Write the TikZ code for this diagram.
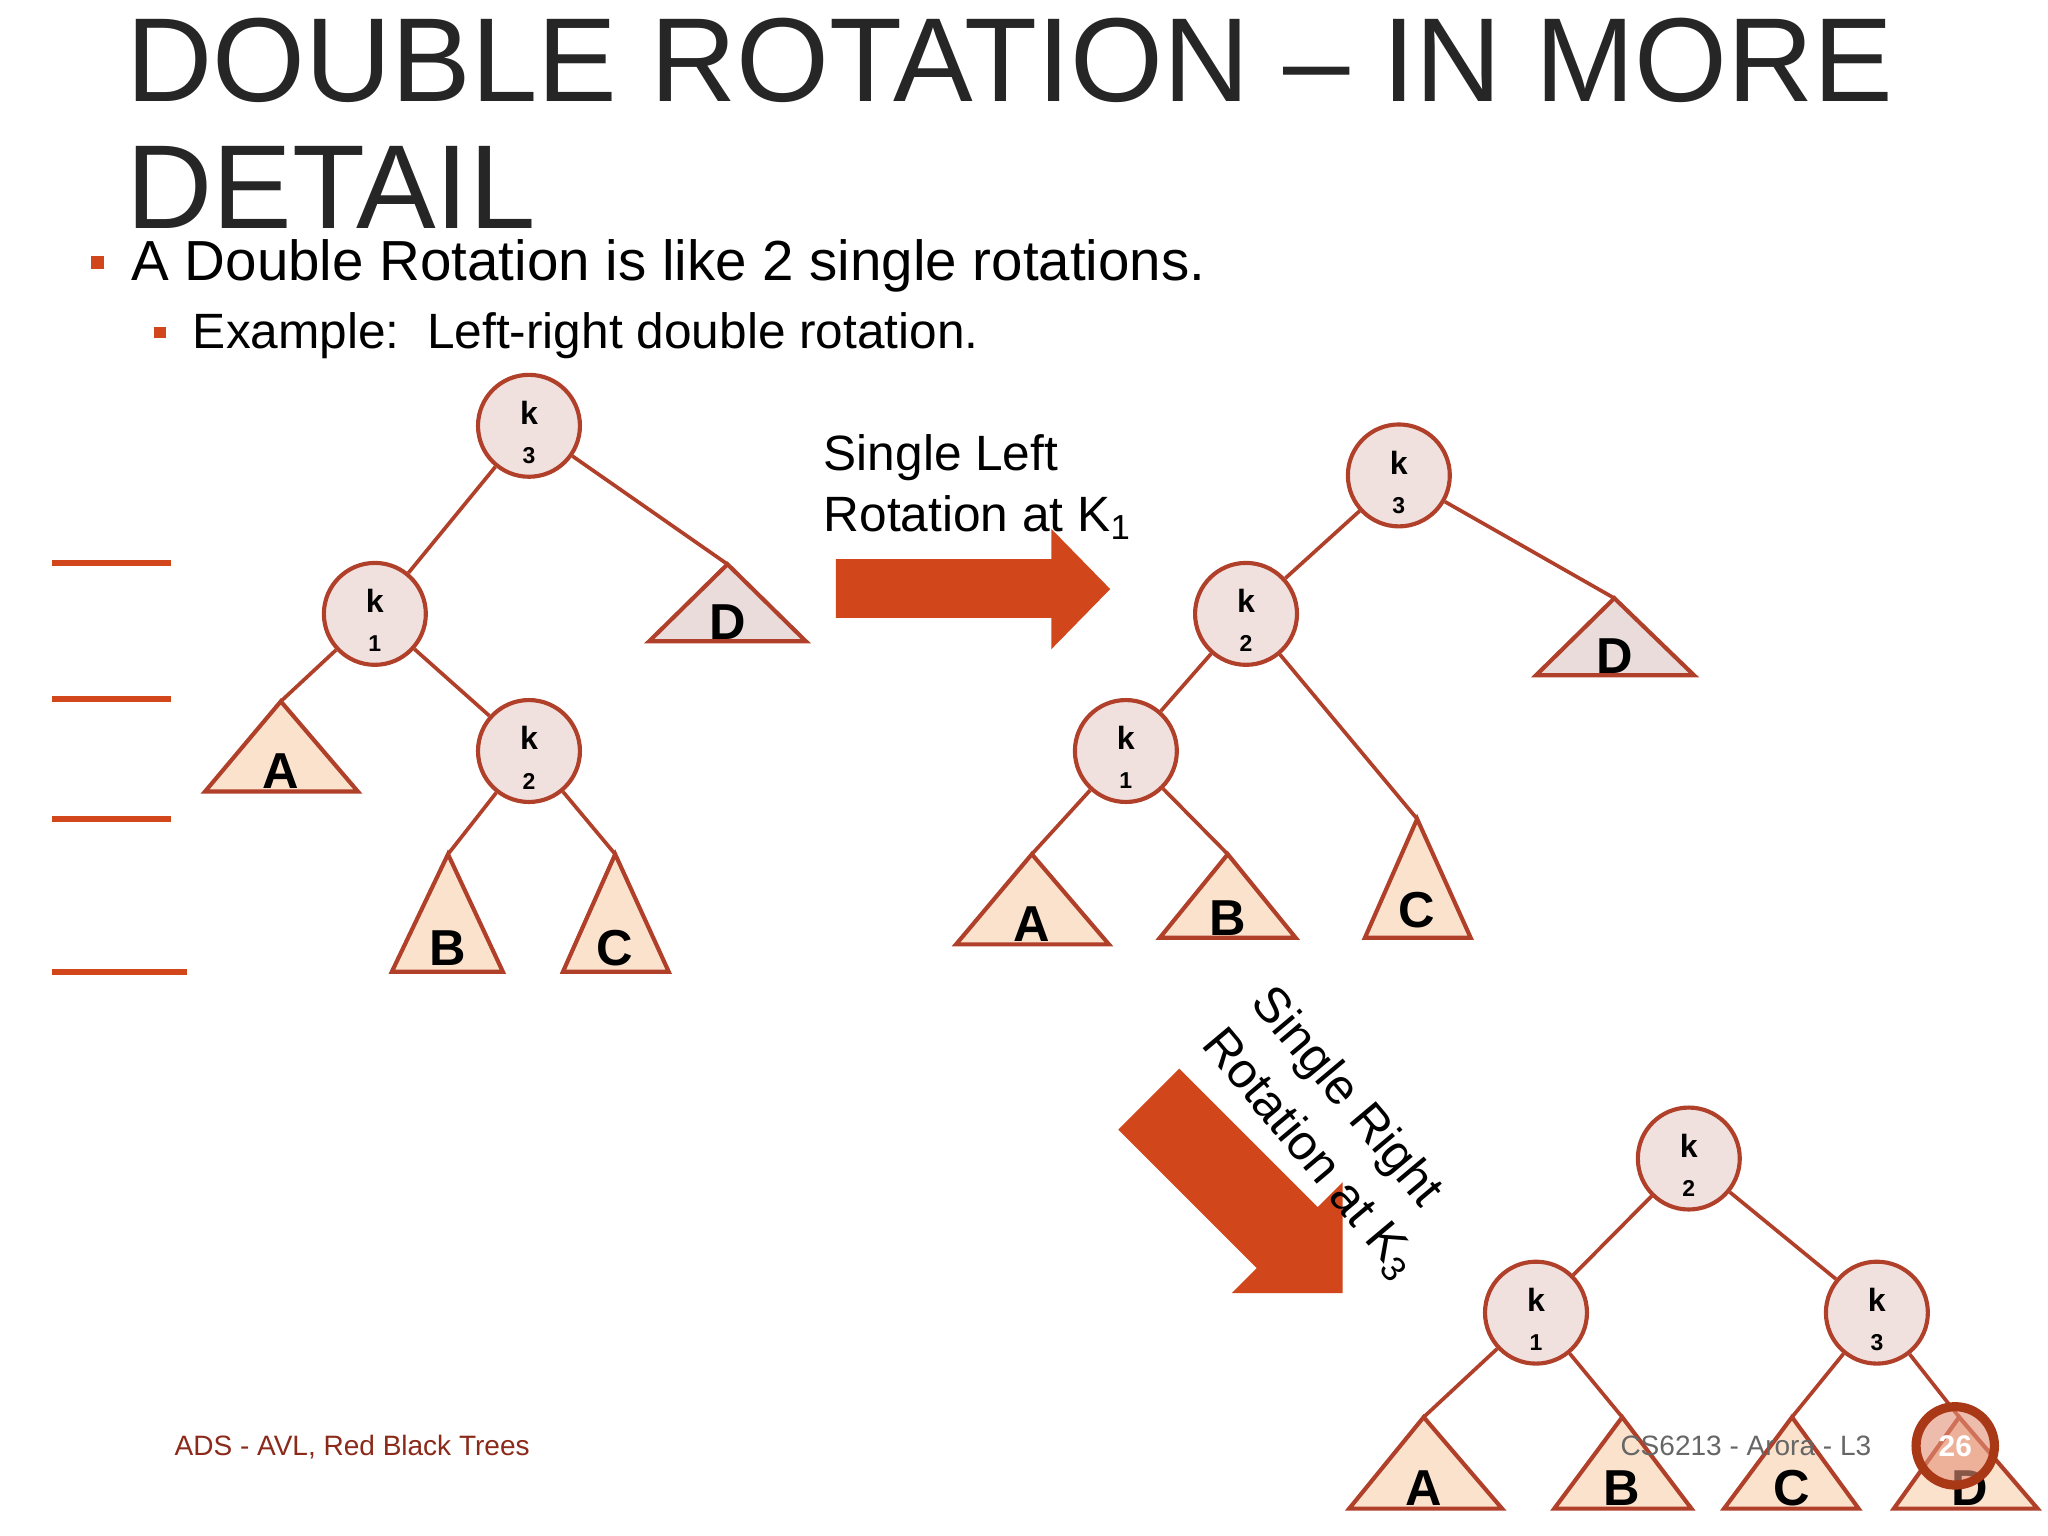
\documentclass[tikz,border=0pt]{standalone}
\usepackage{fontspec}
\setmainfont{Liberation Sans}
\definecolor{edge}{HTML}{B0402A}
\definecolor{nfill}{HTML}{F1E1DE}
\definecolor{tfill}{HTML}{FBE2CC}
\definecolor{dfill}{HTML}{EADCDB}
\definecolor{arr}{HTML}{D2461C}
\definecolor{foot}{HTML}{8B2A1A}
\begin{document}
\begin{tikzpicture}[x=0.01cm,y=-0.01cm,
  kn/.style={circle,draw=edge,fill=nfill,line width=0.9pt,minimum size=0.78cm,inner sep=0pt},
  ed/.style={draw=edge,line width=0.8pt},
  tri/.style={draw=edge,fill=tfill,line width=0.9pt},
  tl/.style={font=\bfseries\fontsize{11pt}{11pt}\selectfont,anchor=base}]
\useasboundingbox (0,0) rectangle (1568,1176);
\fill[white] (0,0) rectangle (1568,1176);
\newcommand{\knode}[4]{\node[kn] (#1) at (#2,#3) {};
  \node[font=\bfseries\fontsize{7pt}{7pt}\selectfont] at (#2,#3-10) {k};
  \node[font=\bfseries\fontsize{5pt}{5pt}\selectfont] at (#2,#3+23) {#4};}
\newcommand{\tri}[6]{% name apexx apexy left right basey
  \coordinate (#1) at (#2,#3);
  \filldraw[tri] (#2,#3) -- (#5,#6) -- (#4,#6) -- cycle;}
% title
\node[anchor=base west,inner sep=0pt,font=\fontsize{26pt}{26pt}\selectfont,text=black!85] at (96,78) {DOUBLE ROTATION -- IN MORE};
\node[anchor=base west,inner sep=0pt,font=\fontsize{26pt}{26pt}\selectfont,text=black!85] at (96,175) {DETAIL};
\fill[arr] (70,196) rectangle (80,206);
\node[anchor=base west,inner sep=0pt,font=\fontsize{12.3pt}{13pt}\selectfont] at (100,215) {A Double Rotation is like 2 single rotations.};
\fill[arr] (118,250) rectangle (127,259);
\node[anchor=base west,inner sep=0pt,font=\fontsize{10.8pt}{12pt}\selectfont] at (147,267) {Example:\ \ Left-right double rotation.};
% left lines
\foreach \y/\x in {431/131,535/131,627/131,744/143} \draw[arr,line width=1.2pt] (40,\y) -- (\x,\y);
% tree 1
\knode{a3}{405}{326}{3}\knode{a1}{287}{470}{1}\knode{a2}{405}{575}{2}
\draw[ed] (a3) -- (557,432) (a3) -- (a1) (a1) -- (215,537) (a1) -- (a2) (a2) -- (343,654) (a2) -- (471,654);
\filldraw[tri,fill=dfill] (557,432) -- (617,491) -- (497,491) -- cycle; \node[tl] at (557,490) {D};
\tri{aA}{215}{537}{157}{274}{606} \node[tl] at (215,604) {A};
\tri{aB}{343}{654}{300}{385}{744} \node[tl] at (343,739) {B};
\tri{aC}{471}{654}{431}{512}{744} \node[tl] at (471,739) {C};
% arrow 1
\fill[arr] (640,428) -- (805,428) -- (805,405) -- (850,451) -- (805,497) -- (805,473) -- (640,473) -- cycle;
\node[anchor=base west,inner sep=0pt,font=\fontsize{10.8pt}{12pt}\selectfont] at (630,360) {Single Left};
\node[anchor=base west,inner sep=0pt,font=\fontsize{10.8pt}{12pt}\selectfont] at (630,407) {Rotation at K\textsubscript{1}};
% tree 2
\knode{b3}{1071}{364}{3}\knode{b2}{954}{470}{2}\knode{b1}{862}{575}{1}
\draw[ed] (b3) -- (1236,458) (b3) -- (b2) (b2) -- (b1) (b2) -- (1085,627) (b1) -- (790,654) (b1) -- (940,654);
\filldraw[tri,fill=dfill] (1236,458) -- (1297,517) -- (1176,517) -- cycle; \node[tl] at (1236,516) {D};
\tri{bA}{790}{654}{732}{849}{723} \node[tl] at (790,721) {A};
\tri{bB}{940}{654}{888}{992}{718} \node[tl] at (940,716) {B};
\tri{bC}{1085}{627}{1045}{1126}{718} \node[tl] at (1085,710) {C};
% arrow 2
\begin{scope}[shift={(1028,990)},rotate=135]
\fill[arr] (0,0) -- (60,-60) -- (60,-33) -- (210,-33) -- (210,33) -- (60,33) -- (60,60) -- cycle;
\end{scope}
\node[rotate=-50,align=left,font=\fontsize{10.8pt}{14pt}\selectfont] at (1022,868) {Single Right\\Rotation at K\textsubscript{3}};
% tree 3
\knode{c2}{1293}{887}{2}\knode{c1}{1176}{1005}{1}\knode{c3}{1437}{1005}{3}
\draw[ed] (c2) -- (c1) (c2) -- (c3) (c1) -- (1090,1085) (c1) -- (1242,1085) (c3) -- (1372,1085) (c3) -- (1500,1085);
\tri{cA}{1090}{1085}{1033}{1150}{1155} \node[tl] at (1090,1153) {A};
\tri{cB}{1242}{1085}{1190}{1295}{1155} \node[tl] at (1242,1153) {B};
\tri{cC}{1372}{1085}{1320}{1423}{1155} \node[tl] at (1372,1153) {C};
\tri{cD}{1500}{1085}{1450}{1560}{1155} \node[tl] at (1508,1153) {D};
% footer
\node[anchor=base west,inner sep=0pt,text=foot,font=\fontsize{6.1pt}{7pt}\selectfont] at (133,1114) {ADS - AVL, Red Black Trees};
\node[anchor=base west,inner sep=0pt,text=black!60,font=\fontsize{6.1pt}{7pt}\selectfont] at (1240,1114) {CS6213 - Arora - L3};
\draw[arr!80!black,line width=2pt,fill=arr!60,fill opacity=0.6] (1497,1107) circle (30);
\node[text=white,font=\bfseries\fontsize{6.5pt}{7pt}\selectfont] at (1497,1107) {26};
\end{tikzpicture}
\end{document}
